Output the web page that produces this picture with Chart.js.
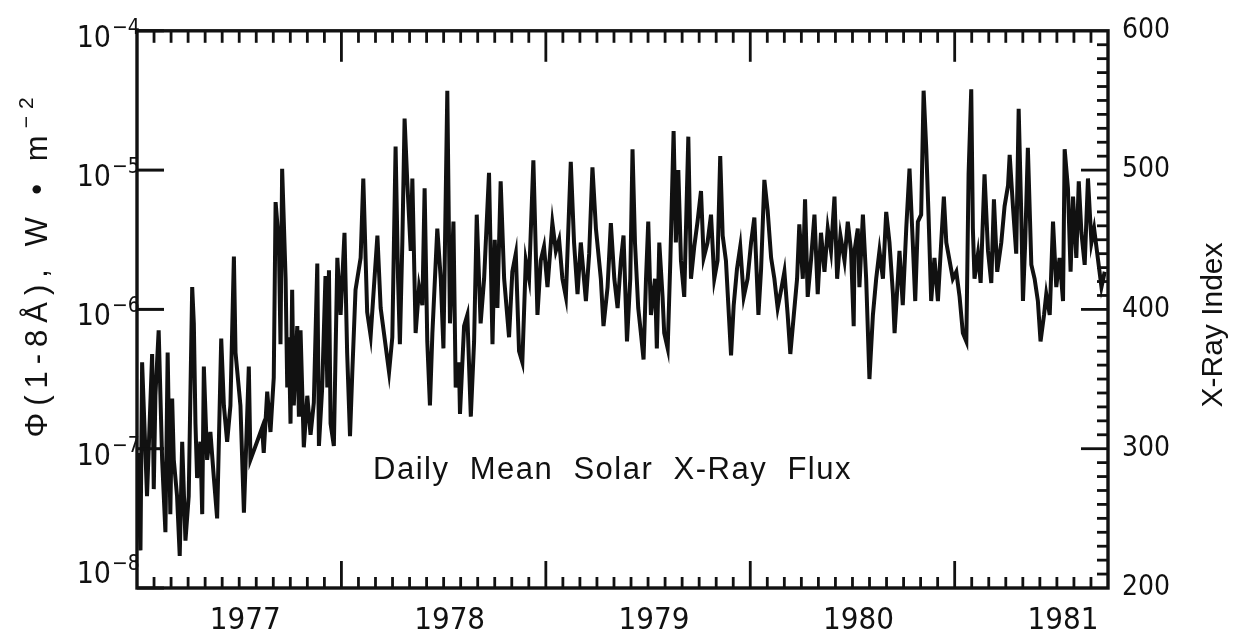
<!DOCTYPE html>
<html>
<head>
<meta charset="utf-8">
<script src="https://cdn.jsdelivr.net/npm/chart.js@4.4.1/dist/chart.umd.min.js"></script>
<style>
  html, body { margin: 0; padding: 0; background: #ffffff; }
  canvas { display: block; }
</style>
</head>
<body>
<canvas id="c" width="1233" height="637"></canvas>
<script>
// ---- data (decimal year, X-Ray Index = 100*log10(flux)+1000) ----
const dates = [
  1977.002,1977.017,1977.025,1977.049,1977.074,1977.082,1977.090,1977.106,1977.123,1977.139,
  1977.150,1977.163,1977.172,1977.180,1977.196,1977.209,1977.221,1977.237,1977.253,1977.270,
  1977.278,1977.286,1977.294,1977.310,1977.319,1977.327,1977.343,1977.359,1977.376,1977.392,
  1977.412,1977.425,1977.441,1977.457,1977.474,1977.482,1977.506,1977.523,1977.547,1977.555,
  1977.580,1977.612,1977.620,1977.637,1977.653,1977.669,1977.678,1977.694,1977.702,1977.710,
  1977.727,1977.735,1977.743,1977.751,1977.759,1977.767,1977.784,1977.792,1977.800,1977.816,
  1977.833,1977.849,1977.865,1977.882,1977.890,1977.906,1977.922,1977.931,1977.939,1977.947,
  1977.963,1977.980,1977.996,1978.015,1978.028,1978.042,1978.053,1978.069,1978.094,1978.107,
  1978.126,1978.143,
  1978.159,1978.176,1978.192,1978.208,1978.233,1978.249,1978.265,1978.277,1978.286,1978.298,
  1978.309,1978.322,1978.339,1978.347,1978.363,1978.380,1978.396,1978.407,1978.420,1978.433,
  1978.445,1978.469,1978.486,1978.499,1978.518,1978.531,1978.548,1978.559,1978.575,1978.580,
  1978.600,1978.616,1978.633,1978.649,1978.662,1978.681,1978.698,1978.722,1978.739,1978.750,
  1978.763,1978.779,1978.796,1978.820,1978.836,1978.853,1978.869,1978.885,1978.902,1978.918,
  1978.939,1978.959,1978.975,1978.991,1979.008,1979.032,1979.049,1979.065,1979.081,1979.098,
  1979.122,1979.138,1979.155,1979.171,1979.196,1979.212,1979.228,1979.245,1979.269,1979.282,
  1979.302,1979.318,
  1979.335,1979.351,1979.367,1979.380,1979.397,1979.413,1979.424,1979.436,1979.452,1979.465,
  1979.478,1979.490,1979.501,1979.514,1979.534,1979.543,1979.555,1979.571,1979.579,1979.596,
  1979.609,1979.625,1979.636,1979.648,1979.661,1979.677,1979.697,1979.710,1979.726,1979.742,
  1979.759,1979.772,1979.791,1979.808,1979.824,1979.840,1979.853,1979.865,1979.881,1979.906,
  1979.919,1979.935,1979.951,1979.968,1979.987,1980.004,1980.020,1980.040,1980.053,1980.069,
  1980.085,1980.102,1980.118,1980.134,1980.151,1980.167,1980.183,1980.196,1980.213,1980.229,
  1980.240,1980.257,1980.268,1980.281,1980.297,1980.314,1980.330,1980.346,1980.363,1980.379,
  1980.395,1980.412,1980.425,1980.441,1980.461,1980.477,1980.493,1980.506,
  1980.510,1980.526,1980.534,1980.551,1980.567,1980.583,1980.600,1980.616,1980.632,1980.649,
  1980.665,1980.681,1980.698,1980.706,1980.722,1980.730,1980.746,1980.763,1980.779,1980.795,
  1980.807,1980.820,1980.836,1980.848,1980.861,1980.872,1980.885,1980.901,1980.918,1980.934,
  1980.947,1980.959,1980.975,1980.991,1981.008,1981.024,1981.040,1981.057,1981.068,1981.081,
  1981.089,1981.097,1981.114,1981.127,1981.146,1981.163,1981.179,1981.192,1981.208,1981.228,
  1981.244,1981.261,1981.269,1981.285,1981.301,1981.313,1981.326,1981.334,1981.345,1981.358,
  1981.375,1981.391,1981.407,1981.420,1981.437,1981.448,1981.465,1981.481,1981.497,1981.513,
  1981.530,1981.538,1981.554,1981.567,1981.579,1981.595,1981.607,1981.620,1981.636,1981.652,
  1981.669,1981.682,1981.718,1981.734
];
const xrayIndex = [
  297,227,362,266,368,271,338,385,292,240,
  369,253,336,292,266,223,305,234,266,416,
  390,318,279,305,253,359,292,312,279,250,
  379,331,305,331,438,369,331,254,359,292,
  302,315,297,341,312,351,477,448,375,501,
  422,344,380,318,414,331,388,323,385,301,
  338,310,333,433,302,344,424,344,428,318,
  302,437,396,455,369,309,354,414,437,494,
  398,381,
  416,453,401,383,355,380,517,422,375,448,
  537,492,442,494,383,416,403,487,377,331,
  383,458,422,372,557,390,463,344,362,325,
  388,396,323,377,468,390,422,498,375,450,
  401,492,422,380,427,440,370,362,435,422,
  507,396,435,445,416,462,442,450,422,409,
  506,448,411,448,406,440,502,458,422,388,
  416,462,
  422,401,435,453,377,422,515,448,401,383,
  364,422,463,396,422,372,448,409,383,372,
  435,528,448,500,435,409,524,422,445,463,
  485,437,448,468,422,435,510,453,435,367,
  403,429,445,409,422,448,466,396,429,493,
  471,437,422,401,414,427,396,368,396,422,
  461,422,479,409,435,468,411,455,427,458,
  442,481,422,453,435,463,442,388,
  442,458,416,468,422,350,396,422,442,422,
  470,448,411,383,422,442,403,458,501,448,
  406,463,468,557,515,468,406,437,406,448,
  481,448,435,422,427,409,383,377,497,558,
  458,422,440,419,497,442,419,479,427,448,
  474,489,511,474,440,544,466,406,448,516,
  432,422,406,377,396,411,396,463,416,437,
  406,515,487,427,481,437,492,455,432,494,
  448,458,416,427
];
const yearLabels = ['1977', '1978', '1979', '1980', '1981'];
const fluxTicks = [1e-8, 1e-7, 1e-6, 1e-5, 1e-4];
const indexTicks = [200, 300, 400, 500, 600];
const chartTitle = 'Daily  Mean  Solar  X-Ray  Flux';
const leftTitle = 'Φ(1-8Å), W • m';
const leftTitleSup = '−2';
const rightTitle = 'X-Ray Index';

// ---- styling ----
const INK = '#111111';
const NARROW = '"Liberation Sans Narrow", "DejaVu Sans Condensed", "Liberation Sans", sans-serif';
const SANS = '"Liberation Sans", Arial, sans-serif';

const decor = {
  id: 'decor',
  afterDraw(chart) {
    const { ctx, chartArea: a, scales } = chart;
    const x = scales.x, yF = scales.yFlux, yI = scales.yIdx;
    ctx.save();
    ctx.strokeStyle = INK;
    ctx.fillStyle = INK;
    ctx.lineCap = 'butt';
    const seg = (x1, y1, x2, y2, w) => {
      ctx.lineWidth = w;
      ctx.beginPath(); ctx.moveTo(x1, y1); ctx.lineTo(x2, y2); ctx.stroke();
    };
    // month ticks, inward on bottom and top
    const nMonths = Math.round((x.max - x.min) * 12);
    for (let m = 1; m < nMonths; m++) {
      const v = x.min + m / 12;
      const px = x.getPixelForValue(v);
      const major = Math.abs(v - Math.round(v)) < 1e-6;
      seg(px, a.bottom, px, a.bottom - (major ? 27 : 11), 2.8);
      seg(px, a.top, px, a.top + (major ? 31 : 12), 2.8);
    }
    // right axis minor/major ticks
    for (let v = yI.min + 10; v < yI.max; v += 10) {
      const py = yI.getPixelForValue(v);
      const major = indexTicks.includes(v);
      seg(a.right, py, a.right - (major ? 27 : 11), py, 2.8);
    }
    // left decade ticks
    fluxTicks.forEach(v => {
      const py = yF.getPixelForValue(v);
      seg(a.left, py, a.left + 27, py, 3);
    });
    // frame
    ctx.lineWidth = 3.4;
    ctx.strokeRect(a.left, a.top, a.right - a.left, a.bottom - a.top);

    // left tick labels: 10 with raised exponent
    fluxTicks.forEach(v => {
      const py = yF.getPixelForValue(v);
      const e = Math.round(Math.log10(v));
      const base = Math.min(py + 16, a.bottom - 5);
      const xr = a.left - 26;
      ctx.textBaseline = 'alphabetic';
      ctx.font = `30px ${NARROW}`;
      ctx.textAlign = 'right';
      ctx.fillText('10', xr, base);
      ctx.font = `21px ${NARROW}`;
      ctx.textAlign = 'left';
      ctx.fillText('−' + Math.abs(e), xr + 1, base - 13);
    });

    // inner caption
    ctx.font = `31px ${SANS}`;
    ctx.textAlign = 'center';
    ctx.textBaseline = 'alphabetic';
    ctx.letterSpacing = '1.5px';
    ctx.fillText(chartTitle, (a.left + a.right) / 2 - 10, 479);
    ctx.letterSpacing = '0px';

    // left title (rotated, reading bottom to top)
    ctx.save();
    ctx.translate(47, 264);
    ctx.rotate(-Math.PI / 2);
    ctx.font = `31px ${SANS}`;
    ctx.letterSpacing = '7px';
    const w1 = ctx.measureText(leftTitle).width;
    ctx.font = `21px ${SANS}`;
    const w2 = ctx.measureText(leftTitleSup).width;
    const start = -(w1 + w2) / 2;
    ctx.textAlign = 'left';
    ctx.font = `31px ${SANS}`;
    ctx.fillText(leftTitle, start, 0);
    ctx.font = `21px ${SANS}`;
    ctx.fillText(leftTitleSup, start + w1, -14);
    ctx.restore();

    // right title
    ctx.save();
    ctx.translate(1222, 325);
    ctx.rotate(-Math.PI / 2);
    ctx.font = `30px ${SANS}`;
    ctx.letterSpacing = '0px';
    ctx.textAlign = 'center';
    ctx.fillText(rightTitle, 0, 0);
    ctx.restore();

    ctx.restore();
  }
};

const points = dates.map((d, i) => ({ x: d, y: xrayIndex[i] }));

new Chart(document.getElementById('c'), {
  type: 'line',
  data: {
    datasets: [{
      data: points,
      xAxisID: 'x',
      yAxisID: 'yIdx',
      borderColor: INK,
      borderWidth: 4,
      borderJoinStyle: 'miter',
      pointRadius: 0,
      tension: 0,
      fill: false
    }]
  },
  options: {
    responsive: false,
    animation: false,
    events: [],
    layout: { padding: { top: 25, left: 0, right: 0, bottom: 0 } },
    plugins: { legend: { display: false }, tooltip: { enabled: false } },
    scales: {
      x: {
        type: 'linear',
        position: 'bottom',
        min: Number(yearLabels[0]),
        max: Number(yearLabels[yearLabels.length - 1]) + 0.75,
        grid: { display: false, drawTicks: false },
        border: { display: false },
        afterBuildTicks: s => { s.ticks = yearLabels.map(y => ({ value: Number(y) + 0.5 })); },
        afterFit: s => { s.height = 49; },
        ticks: {
          autoSkip: false,
          maxRotation: 0,
          padding: 14,
          labelOffset: 6,
          color: INK,
          font: { family: NARROW, size: 31 },
          callback: v => yearLabels.find(y => Math.abs(Number(y) + 0.5 - v) < 1e-6) || ''
        }
      },
      yFlux: {
        type: 'logarithmic',
        position: 'left',
        min: fluxTicks[0],
        max: fluxTicks[fluxTicks.length - 1],
        grid: { display: false, drawTicks: false },
        border: { display: false },
        afterBuildTicks: s => { s.ticks = fluxTicks.map(v => ({ value: v })); },
        afterFit: s => { s.width = 137; },
        ticks: { display: false }
      },
      yIdx: {
        type: 'linear',
        position: 'right',
        min: indexTicks[0],
        max: indexTicks[indexTicks.length - 1],
        grid: { display: false, drawTicks: false },
        border: { display: false },
        afterBuildTicks: s => { s.ticks = indexTicks.map(v => ({ value: v })); },
        afterFit: s => { s.width = 125; },
        ticks: {
          padding: 14,
          color: INK,
          font: { family: NARROW, size: 28 }
        }
      }
    }
  },
  plugins: [decor]
});
</script>
</body>
</html>
